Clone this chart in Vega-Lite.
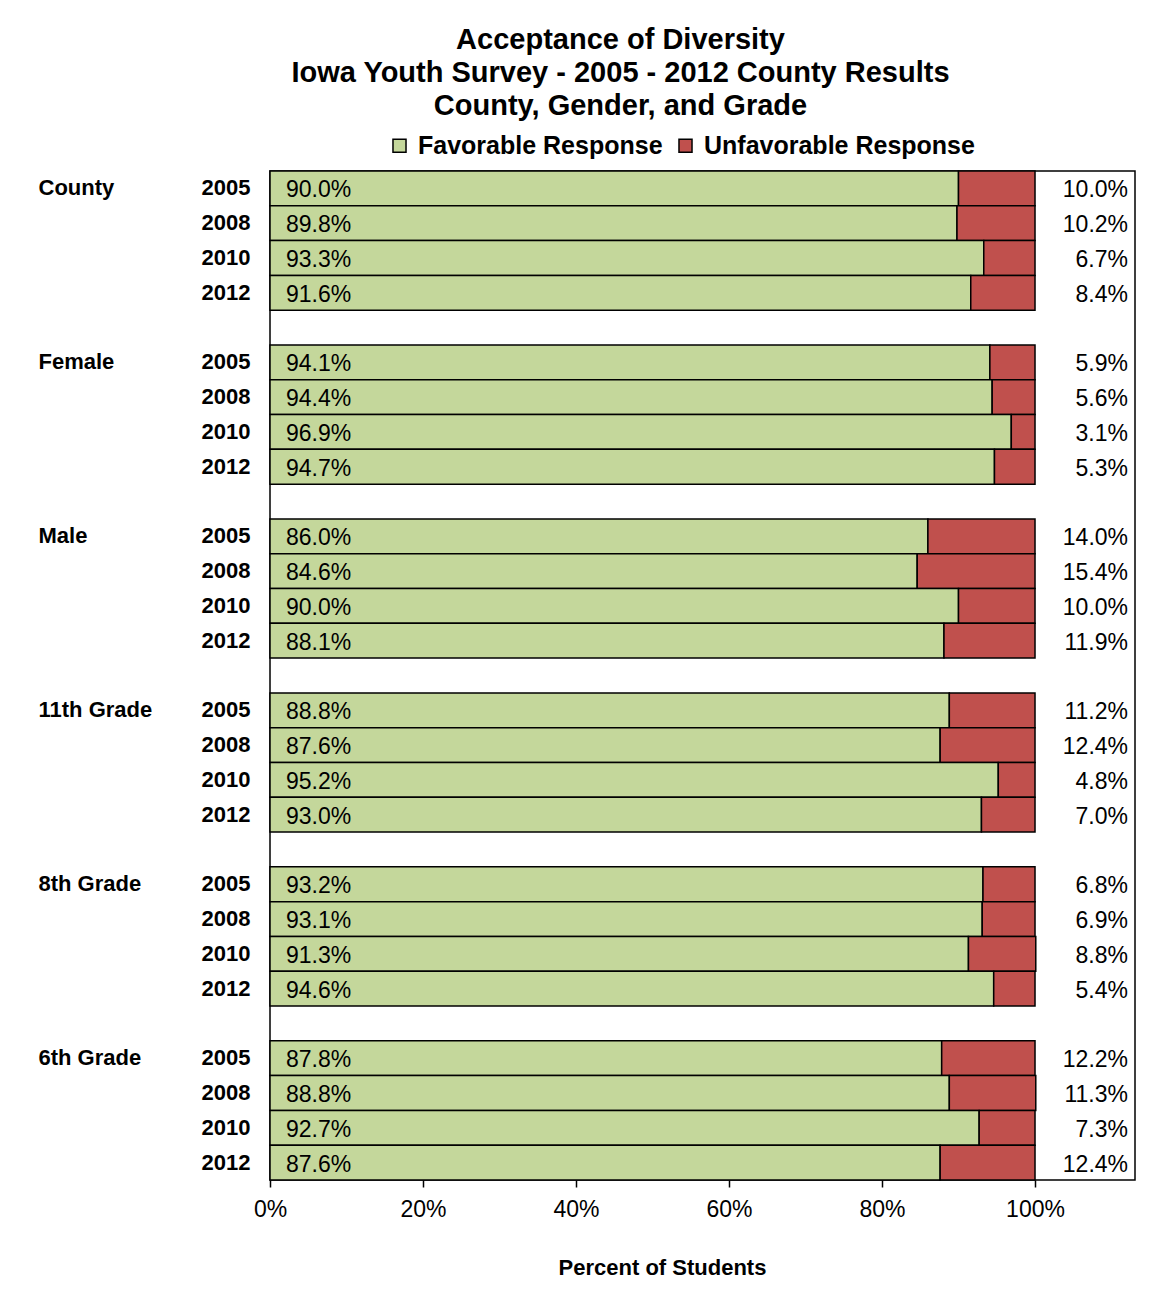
{
  "$schema": "https://vega.github.io/schema/vega-lite/v6.json",
  "width": 865,
  "height": 1009,
  "autosize": {"type": "none"},
  "padding": {"left": 270, "top": 171, "right": 34, "bottom": 111},
  "background": "white",
  "config": {
    "font": "Liberation Sans",
    "view": {"stroke": "black", "strokeWidth": 1.5}
  },
  "title": {
    "text": ["Acceptance of Diversity", "Iowa Youth Survey - 2005 - 2012 County Results", "County, Gender, and Grade"],
    "fontSize": 29,
    "fontWeight": "bold",
    "lineHeight": 33,
    "anchor": "middle",
    "dx": -82,
    "offset": 12,
    "color": "black"
  },
  "data": {
    "values": [
      {"group": "County", "year": "2005", "response": "Favorable Response", "pct": 90.0},
      {"group": "County", "year": "2005", "response": "Unfavorable Response", "pct": 10.0},
      {"group": "County", "year": "2008", "response": "Favorable Response", "pct": 89.8},
      {"group": "County", "year": "2008", "response": "Unfavorable Response", "pct": 10.2},
      {"group": "County", "year": "2010", "response": "Favorable Response", "pct": 93.3},
      {"group": "County", "year": "2010", "response": "Unfavorable Response", "pct": 6.7},
      {"group": "County", "year": "2012", "response": "Favorable Response", "pct": 91.6},
      {"group": "County", "year": "2012", "response": "Unfavorable Response", "pct": 8.4},
      {"group": "Female", "year": "2005", "response": "Favorable Response", "pct": 94.1},
      {"group": "Female", "year": "2005", "response": "Unfavorable Response", "pct": 5.9},
      {"group": "Female", "year": "2008", "response": "Favorable Response", "pct": 94.4},
      {"group": "Female", "year": "2008", "response": "Unfavorable Response", "pct": 5.6},
      {"group": "Female", "year": "2010", "response": "Favorable Response", "pct": 96.9},
      {"group": "Female", "year": "2010", "response": "Unfavorable Response", "pct": 3.1},
      {"group": "Female", "year": "2012", "response": "Favorable Response", "pct": 94.7},
      {"group": "Female", "year": "2012", "response": "Unfavorable Response", "pct": 5.3},
      {"group": "Male", "year": "2005", "response": "Favorable Response", "pct": 86.0},
      {"group": "Male", "year": "2005", "response": "Unfavorable Response", "pct": 14.0},
      {"group": "Male", "year": "2008", "response": "Favorable Response", "pct": 84.6},
      {"group": "Male", "year": "2008", "response": "Unfavorable Response", "pct": 15.4},
      {"group": "Male", "year": "2010", "response": "Favorable Response", "pct": 90.0},
      {"group": "Male", "year": "2010", "response": "Unfavorable Response", "pct": 10.0},
      {"group": "Male", "year": "2012", "response": "Favorable Response", "pct": 88.1},
      {"group": "Male", "year": "2012", "response": "Unfavorable Response", "pct": 11.9},
      {"group": "11th Grade", "year": "2005", "response": "Favorable Response", "pct": 88.8},
      {"group": "11th Grade", "year": "2005", "response": "Unfavorable Response", "pct": 11.2},
      {"group": "11th Grade", "year": "2008", "response": "Favorable Response", "pct": 87.6},
      {"group": "11th Grade", "year": "2008", "response": "Unfavorable Response", "pct": 12.4},
      {"group": "11th Grade", "year": "2010", "response": "Favorable Response", "pct": 95.2},
      {"group": "11th Grade", "year": "2010", "response": "Unfavorable Response", "pct": 4.8},
      {"group": "11th Grade", "year": "2012", "response": "Favorable Response", "pct": 93.0},
      {"group": "11th Grade", "year": "2012", "response": "Unfavorable Response", "pct": 7.0},
      {"group": "8th Grade", "year": "2005", "response": "Favorable Response", "pct": 93.2},
      {"group": "8th Grade", "year": "2005", "response": "Unfavorable Response", "pct": 6.8},
      {"group": "8th Grade", "year": "2008", "response": "Favorable Response", "pct": 93.1},
      {"group": "8th Grade", "year": "2008", "response": "Unfavorable Response", "pct": 6.9},
      {"group": "8th Grade", "year": "2010", "response": "Favorable Response", "pct": 91.3},
      {"group": "8th Grade", "year": "2010", "response": "Unfavorable Response", "pct": 8.8},
      {"group": "8th Grade", "year": "2012", "response": "Favorable Response", "pct": 94.6},
      {"group": "8th Grade", "year": "2012", "response": "Unfavorable Response", "pct": 5.4},
      {"group": "6th Grade", "year": "2005", "response": "Favorable Response", "pct": 87.8},
      {"group": "6th Grade", "year": "2005", "response": "Unfavorable Response", "pct": 12.2},
      {"group": "6th Grade", "year": "2008", "response": "Favorable Response", "pct": 88.8},
      {"group": "6th Grade", "year": "2008", "response": "Unfavorable Response", "pct": 11.3},
      {"group": "6th Grade", "year": "2010", "response": "Favorable Response", "pct": 92.7},
      {"group": "6th Grade", "year": "2010", "response": "Unfavorable Response", "pct": 7.3},
      {"group": "6th Grade", "year": "2012", "response": "Favorable Response", "pct": 87.6},
      {"group": "6th Grade", "year": "2012", "response": "Unfavorable Response", "pct": 12.4}
    ]
  },
  "transform": [
    {"calculate": "datum.group + ' ' + datum.year", "as": "key"},
    {"calculate": "format(datum.pct, '.1f') + '%'", "as": "label"}
  ],
  "encoding": {
    "y": {
      "field": "key",
      "type": "nominal",
      "scale": {
        "domain": [
          "County 2005", "County 2008", "County 2010", "County 2012", "gap1",
          "Female 2005", "Female 2008", "Female 2010", "Female 2012", "gap2",
          "Male 2005", "Male 2008", "Male 2010", "Male 2012", "gap3",
          "11th Grade 2005", "11th Grade 2008", "11th Grade 2010", "11th Grade 2012", "gap4",
          "8th Grade 2005", "8th Grade 2008", "8th Grade 2010", "8th Grade 2012", "gap5",
          "6th Grade 2005", "6th Grade 2008", "6th Grade 2010", "6th Grade 2012"
        ],
        "paddingInner": 0,
        "paddingOuter": 0
      }
    }
  },
  "layer": [
    {
      "mark": {"type": "bar", "stroke": "black", "strokeWidth": 1.5},
      "encoding": {
        "x": {
          "field": "pct",
          "type": "quantitative",
          "stack": "zero",
          "scale": {"domain": [0, 113.07], "nice": false, "zero": true},
          "axis": {
            "values": [0, 20, 40, 60, 80, 100],
            "labelExpr": "datum.value + '%'",
            "labelFlush": false,
            "grid": false,
            "domain": false,
            "ticks": true,
            "tickSize": 7,
            "tickColor": "black",
            "tickWidth": 1.5,
            "labelFontSize": 23,
            "labelColor": "black",
            "labelPadding": 11,
            "title": "Percent of Students",
            "titleFontSize": 22,
            "titleFontWeight": "bold",
            "titleColor": "black",
            "titlePadding": 36,
            "titleX": 392,
            "titleAlign": "center"
          }
        },
        "y": {
          "field": "key",
          "type": "nominal",
          "axis": {
            "title": null,
            "domain": false,
            "ticks": false,
            "labelExpr": "slice(datum.value, 0, 3) == 'gap' ? '' : slice(datum.value, -4)",
            "labelFontSize": 22,
            "labelFontWeight": "bold",
            "labelColor": "black",
            "labelPadding": 20,
            "labelOverlap": false
          }
        },
        "color": {
          "field": "response",
          "type": "nominal",
          "scale": {"domain": ["Favorable Response", "Unfavorable Response"], "range": ["#C4D79B", "#C0504D"]},
          "legend": {
            "title": null,
            "orient": "none",
            "direction": "horizontal",
            "legendX": 117,
            "legendY": -38,
            "symbolType": "square",
            "symbolSize": 170,
            "symbolStrokeColor": "black",
            "symbolStrokeWidth": 1.5,
            "labelFontSize": 25,
            "labelFontWeight": "bold",
            "labelColor": "black",
            "labelOffset": 6,
            "columnPadding": 10,
            "labelLimit": 400
          }
        },
        "order": {"field": "response", "sort": "ascending"}
      }
    },
    {
      "transform": [{"filter": "datum.response == 'Favorable Response'"}],
      "mark": {"type": "text", "align": "left", "dx": 16, "fontSize": 23, "color": "black", "baseline": "middle", "dy": 2},
      "encoding": {
        "x": {"datum": 0, "type": "quantitative"},
        "y": {
          "field": "key",
          "type": "nominal",
          "axis": {
            "title": null,
            "orient": "left",
            "offset": 232,
            "domain": false,
            "ticks": false,
            "labelAlign": "left",
            "labelPadding": 0,
            "labelExpr": "slice(datum.value, -4) == '2005' ? slice(datum.value, 0, -5) : ''",
            "labelFontSize": 22,
            "labelFontWeight": "bold",
            "labelColor": "black",
            "labelOverlap": false,
            "labelLimit": 300
          }
        },
        "text": {"field": "label"}
      }
    },
    {
      "transform": [{"filter": "datum.response == 'Unfavorable Response'"}],
      "mark": {"type": "text", "align": "right", "dx": 93, "fontSize": 23, "color": "black", "baseline": "middle", "dy": 2},
      "encoding": {
        "x": {"datum": 100, "type": "quantitative"},
        "y": {"field": "key", "type": "nominal", "axis": null},
        "text": {"field": "label"}
      }
    }
  ],
  "resolve": {"axis": {"y": "independent"}}
}
